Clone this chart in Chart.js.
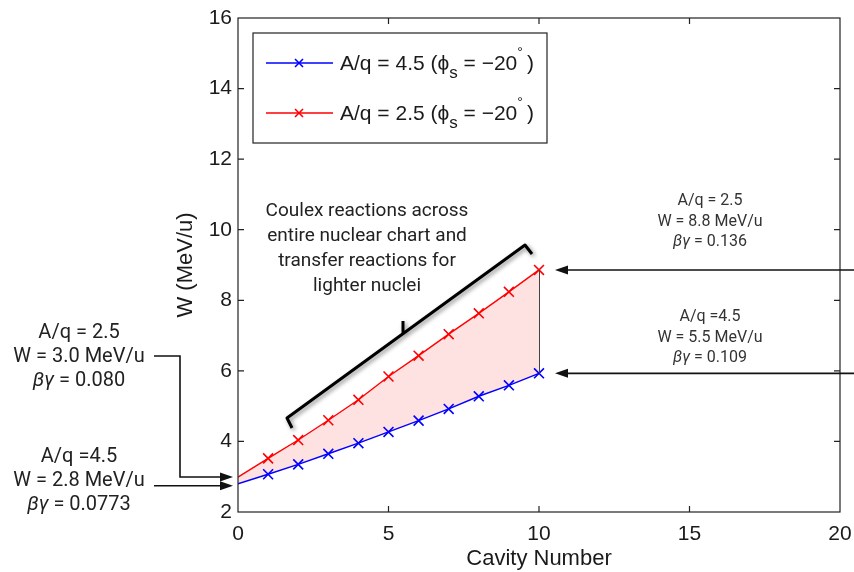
<!DOCTYPE html>
<html lang="en">
<head>
<meta charset="UTF-8">
<title>W vs Cavity Number</title>
<script src="https://cdn.jsdelivr.net/npm/chart.js"></script>
<style>
  body { margin: 0; background: #fff; }
  #wrap { width: 854px; height: 572px; }
</style>
</head>
<body>
<div id="wrap"><canvas id="wChart" width="854" height="572"></canvas></div>
<script>
// data
const cavities = [0, 1, 2, 3, 4, 5, 6, 7, 8, 9, 10];
const wHeavy = [2.80, 3.07, 3.35, 3.65, 3.95, 4.27, 4.59, 4.92, 5.28, 5.59, 5.93]; // A/q = 4.5
const wLight = [2.99, 3.52, 4.04, 4.60, 5.18, 5.84, 6.43, 7.04, 7.63, 8.24, 8.86]; // A/q = 2.5
const xTicks = [0, 5, 10, 15, 20];
const yTicks = [2, 4, 6, 8, 10, 12, 14, 16];
const seriesNames = ['A/q = 4.5', 'A/q = 2.5'];
const seriesColors = ['#0000ff', '#ff0000'];

const TXT = '#1a1a1a';
const HELV = '"Liberation Sans", Arial, sans-serif';
const ANNO = 'Roboto, "Liberation Sans", sans-serif';

function pts(ys) {
    return cavities.map((c, i) => ({ x: c, y: ys[i] }));
}
const markerSize = cavities.map(c => c === 0 ? 0 : 7);

// draw a line of text made of pieces (text, font, dy)
function richText(ctx, parts, x, y, align) {
    let w = 0;
    parts.forEach(p => { ctx.font = p[1]; w += ctx.measureText(p[0]).width; });
    let cx = align === 'left' ? x : x - w / 2;
    parts.forEach(p => {
        ctx.font = p[1];
        ctx.fillText(p[0], cx, y + (p[2] || 0));
        cx += ctx.measureText(p[0]).width;
    });
}

function arrowHead(ctx, x, y, dir) {
    // dir: 1 = pointing right, -1 = pointing left
    ctx.beginPath();
    ctx.moveTo(x, y);
    ctx.lineTo(x - dir * 13, y - 4.5);
    ctx.lineTo(x - dir * 13, y + 4.5);
    ctx.closePath();
    ctx.fill();
}

function crossMark(ctx, x, y, r) {
    ctx.beginPath();
    ctx.moveTo(x - r, y - r); ctx.lineTo(x + r, y + r);
    ctx.moveTo(x - r, y + r); ctx.lineTo(x + r, y - r);
    ctx.stroke();
}

const overlay = {
    id: 'overlay',
    afterDatasetsDraw(chart) {
        const { ctx, chartArea: a, scales: { x, y } } = chart;
        ctx.save();
        // line closing the shaded region at cavity 10
        const last = cavities.length - 1;
        ctx.strokeStyle = '#444';
        ctx.lineWidth = 1;
        ctx.beginPath();
        ctx.moveTo(x.getPixelForValue(cavities[last]) + 0.5, y.getPixelForValue(wHeavy[last]));
        ctx.lineTo(x.getPixelForValue(cavities[last]) + 0.5, y.getPixelForValue(wLight[last]));
        ctx.stroke();

        // axes box with inward ticks
        ctx.strokeStyle = '#222';
        ctx.lineWidth = 1.2;
        ctx.strokeRect(a.left, a.top, a.right - a.left, a.bottom - a.top);
        ctx.beginPath();
        xTicks.slice(1, -1).forEach(v => {
            const px = x.getPixelForValue(v);
            ctx.moveTo(px, a.bottom); ctx.lineTo(px, a.bottom - 6);
            ctx.moveTo(px, a.top); ctx.lineTo(px, a.top + 6);
        });
        yTicks.slice(1, -1).forEach(v => {
            const py = y.getPixelForValue(v);
            ctx.moveTo(a.left, py); ctx.lineTo(a.left + 6, py);
            ctx.moveTo(a.right, py); ctx.lineTo(a.right - 6, py);
        });
        ctx.stroke();

        // bracket with soft shadow
        ctx.shadowColor = 'rgba(0,0,0,0.45)';
        ctx.shadowBlur = 4;
        ctx.shadowOffsetX = 2;
        ctx.shadowOffsetY = 2;
        ctx.strokeStyle = '#000';
        ctx.lineWidth = 3;
        ctx.lineJoin = 'round';
        ctx.beginPath();
        ctx.moveTo(292, 428);
        ctx.lineTo(287, 418);
        ctx.lineTo(525, 245);
        ctx.lineTo(532, 254);
        ctx.moveTo(403, 333);
        ctx.lineTo(403, 321);
        ctx.stroke();
        ctx.restore();
    },
    afterDraw(chart) {
        const { ctx, chartArea: a, scales: { x, y } } = chart;
        ctx.save();
        ctx.textBaseline = 'middle';

        // legend
        ctx.fillStyle = '#fff';
        ctx.fillRect(253, 33, 294, 110);
        ctx.strokeStyle = '#222';
        ctx.lineWidth = 1.2;
        ctx.strokeRect(253, 33, 294, 110);
        seriesNames.forEach((name, i) => {
            const ly = 63 + i * 50;
            ctx.strokeStyle = seriesColors[i];
            ctx.lineWidth = 1.3;
            ctx.beginPath();
            ctx.moveTo(266, ly); ctx.lineTo(333, ly);
            ctx.stroke();
            ctx.lineWidth = 1.6;
            crossMark(ctx, 299, ly, 4);
            ctx.fillStyle = TXT;
            richText(ctx, [
                [name + ' (\u03d5', '21px ' + HELV],
                ['s', '17px ' + HELV, 9],
                [' = \u221220', '21px ' + HELV],
                ['\u00b0', '14px ' + HELV, -11],
                ['\u2009)', '21px ' + HELV]
            ], 340, ly + 1, 'left');
        });

        // middle annotation
        ctx.fillStyle = '#222';
        ['Coulex reactions across', 'entire nuclear chart and', 'transfer reactions for', 'lighter nuclei']
            .forEach((t, i) => richText(ctx, [[t, '19px ' + ANNO]], 367, 211 + i * 25, 'center'));

        // right-hand annotations and arrows
        const last = cavities.length - 1;
        const tipX = x.getPixelForValue(cavities[last]) + 16;
        const rows = [
            { lines: ['A/q = 2.5', 'W = 8.8 MeV/u', ['\u03b2\u03b3', ' = 0.136']], top: 201, ay: y.getPixelForValue(wLight[last]) },
            { lines: ['A/q =4.5', 'W = 5.5 MeV/u', ['\u03b2\u03b3', ' = 0.109']], top: 317, ay: y.getPixelForValue(wHeavy[last]) }
        ];
        ctx.fillStyle = '#333';
        rows.forEach(r => {
            r.lines.forEach((t, i) => {
                const ly = r.top + i * 20.5;
                if (Array.isArray(t)) {
                    richText(ctx, [[t[0], 'italic 16px ' + ANNO], [t[1], '16px ' + ANNO]], 710, ly, 'center');
                } else {
                    richText(ctx, [[t, '16px ' + ANNO]], 710, ly, 'center');
                }
            });
        });
        ctx.strokeStyle = '#111';
        ctx.fillStyle = '#111';
        ctx.lineWidth = 1.6;
        rows.forEach(r => {
            ctx.beginPath();
            ctx.moveTo(854, r.ay); ctx.lineTo(tipX + 8, r.ay);
            ctx.stroke();
            arrowHead(ctx, tipX, r.ay, -1);
        });

        // left-hand annotations and arrows
        const leftRows = [
            { lines: ['A/q = 2.5', 'W = 3.0 MeV/u', ['\u03b2\u03b3', ' = 0.080']], top: 333 },
            { lines: ['A/q =4.5', 'W = 2.8 MeV/u', ['\u03b2\u03b3', ' = 0.0773']], top: 457 }
        ];
        ctx.fillStyle = '#222';
        leftRows.forEach(r => {
            r.lines.forEach((t, i) => {
                const ly = r.top + i * 24;
                if (Array.isArray(t)) {
                    richText(ctx, [[t[0], 'italic 20px ' + ANNO], [t[1], '20px ' + ANNO]], 79, ly, 'center');
                } else {
                    richText(ctx, [[t, '20px ' + ANNO]], 79, ly, 'center');
                }
            });
        });
        const yL = y.getPixelForValue(wLight[0]);
        const yH = y.getPixelForValue(wHeavy[0]) + 2;
        const leftTip = a.left - 5;
        ctx.strokeStyle = '#111';
        ctx.fillStyle = '#111';
        ctx.lineWidth = 1.6;
        ctx.beginPath();
        ctx.moveTo(154, 356); ctx.lineTo(180, 356); ctx.lineTo(180, yL); ctx.lineTo(leftTip - 8, yL);
        ctx.moveTo(154, yH); ctx.lineTo(leftTip - 8, yH);
        ctx.stroke();
        arrowHead(ctx, leftTip, yL, 1);
        arrowHead(ctx, leftTip, yH, 1);
        ctx.restore();
    }
};

new Chart(document.getElementById('wChart').getContext('2d'), {
    type: 'line',
    data: {
        datasets: [
            {
                label: seriesNames[0],
                data: pts(wHeavy),
                borderColor: seriesColors[0],
                borderWidth: 1.4,
                pointStyle: 'crossRot',
                pointRadius: markerSize,
                pointBorderColor: seriesColors[0],
                pointBorderWidth: 1.6,
                fill: false
            },
            {
                label: seriesNames[1],
                data: pts(wLight),
                borderColor: seriesColors[1],
                backgroundColor: 'rgba(250, 120, 120, 0.22)',
                borderWidth: 1.4,
                pointStyle: 'crossRot',
                pointRadius: markerSize,
                pointBorderColor: seriesColors[1],
                pointBorderWidth: 1.6,
                fill: '-1'
            }
        ]
    },
    options: {
        responsive: false,
        animation: false,
        devicePixelRatio: 1,
        layout: { padding: { left: 173, right: 14, top: 18, bottom: 0 } },
        plugins: {
            legend: { display: false },
            tooltip: { enabled: false }
        },
        scales: {
            x: {
                type: 'linear',
                min: 0,
                max: 20,
                afterBuildTicks: s => { s.ticks = xTicks.map(v => ({ value: v })); },
                afterFit: s => { s.height = 60; s.paddingLeft = 0; s.paddingRight = 0; },
                grid: { display: false, drawTicks: false },
                border: { display: false },
                ticks: { color: TXT, padding: 10, font: { family: HELV, size: 21 } },
                title: {
                    display: true,
                    text: 'Cavity Number',
                    color: TXT,
                    padding: { top: 0, bottom: 0 },
                    font: { family: HELV, size: 22 }
                }
            },
            y: {
                min: 2,
                max: 16,
                afterBuildTicks: s => { s.ticks = yTicks.map(v => ({ value: v })); },
                afterFit: s => { s.width = 65; s.paddingTop = 0; s.paddingBottom = 0; },
                grid: { display: false, drawTicks: false },
                border: { display: false },
                ticks: { color: TXT, padding: 6, font: { family: HELV, size: 21 } },
                title: {
                    display: true,
                    text: 'W (MeV/u)',
                    color: TXT,
                    padding: { top: 0, bottom: 0 },
                    font: { family: HELV, size: 22 }
                }
            }
        }
    },
    plugins: [overlay]
});
</script>
</body>
</html>
